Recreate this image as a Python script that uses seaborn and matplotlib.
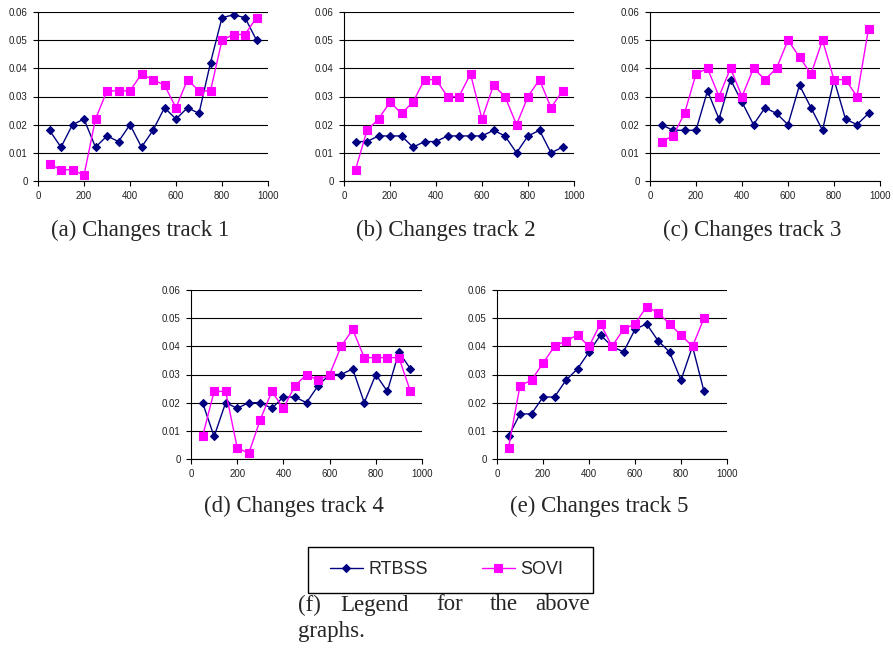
import numpy as np
import pandas as pd
import matplotlib
matplotlib.use('Agg')
import matplotlib.pyplot as plt
import matplotlib.patches as mpatches
import seaborn as sns

# ------------------------------------------------------------
# data
# ------------------------------------------------------------
x_19 = [50, 100, 150, 200, 250, 300, 350, 400, 450, 500,
        550, 600, 650, 700, 750, 800, 850, 900, 950]
x_18 = x_19[:-1]

rtbss_1 = [0.018, 0.012, 0.020, 0.022, 0.012, 0.016, 0.014, 0.020, 0.012, 0.018,
           0.026, 0.022, 0.026, 0.024, 0.042, 0.058, 0.059, 0.058, 0.050]
sovi_1 = [0.006, 0.004, 0.004, 0.002, 0.022, 0.032, 0.032, 0.032, 0.038, 0.036,
          0.034, 0.026, 0.036, 0.032, 0.032, 0.050, 0.052, 0.052, 0.058]

rtbss_2 = [0.014, 0.014, 0.016, 0.016, 0.016, 0.012, 0.014, 0.014, 0.016, 0.016,
           0.016, 0.016, 0.018, 0.016, 0.010, 0.016, 0.018, 0.010, 0.012]
sovi_2 = [0.004, 0.018, 0.022, 0.028, 0.024, 0.028, 0.036, 0.036, 0.030, 0.030,
          0.038, 0.022, 0.034, 0.030, 0.020, 0.030, 0.036, 0.026, 0.032]

rtbss_3 = [0.020, 0.018, 0.018, 0.018, 0.032, 0.022, 0.036, 0.028, 0.020, 0.026,
           0.024, 0.020, 0.034, 0.026, 0.018, 0.036, 0.022, 0.020, 0.024]
sovi_3 = [0.014, 0.016, 0.024, 0.038, 0.040, 0.030, 0.040, 0.030, 0.040, 0.036,
          0.040, 0.050, 0.044, 0.038, 0.050, 0.036, 0.036, 0.030, 0.054]

rtbss_4 = [0.020, 0.008, 0.020, 0.018, 0.020, 0.020, 0.018, 0.022, 0.022, 0.020,
           0.026, 0.030, 0.030, 0.032, 0.020, 0.030, 0.024, 0.038, 0.032]
sovi_4 = [0.008, 0.024, 0.024, 0.004, 0.002, 0.014, 0.024, 0.018, 0.026, 0.030,
          0.028, 0.030, 0.040, 0.046, 0.036, 0.036, 0.036, 0.036, 0.024]

rtbss_5 = [0.008, 0.016, 0.016, 0.022, 0.022, 0.028, 0.032, 0.038, 0.044, 0.040,
           0.038, 0.046, 0.048, 0.042, 0.038, 0.028, 0.040, 0.024]
sovi_5 = [0.004, 0.026, 0.028, 0.034, 0.040, 0.042, 0.044, 0.040, 0.048, 0.040,
          0.046, 0.048, 0.054, 0.052, 0.048, 0.044, 0.040, 0.050]

captions = ['(a) Changes track 1', '(b) Changes track 2', '(c) Changes track 3',
            '(d) Changes track 4', '(e) Changes track 5']
series_names = ['RTBSS', 'SOVI']
xtick_vals = [0, 200, 400, 600, 800, 1000]
xtick_labels = ['0', '200', '400', '600', '800', '1000']
ytick_vals = [0, 0.01, 0.02, 0.03, 0.04, 0.05, 0.06]
ytick_labels = ['0', '0.01', '0.02', '0.03', '0.04', '0.05', '0.06']

panels = [
    (x_19, rtbss_1, sovi_1),
    (x_19, rtbss_2, sovi_2),
    (x_19, rtbss_3, sovi_3),
    (x_19, rtbss_4, sovi_4),
    (x_18, rtbss_5, sovi_5),
]

# ------------------------------------------------------------
# style
# ------------------------------------------------------------
sns.set_theme(style='white')
plt.rcParams['font.family'] = ['Liberation Sans', 'DejaVu Sans']
serif = ['Liberation Serif', 'DejaVu Serif']

W, H = 893, 648
fig = plt.figure(figsize=(W / 100, H / 100), dpi=100)

# axes boxes in pixels: left, right, top, bottom
boxes = [
    (38, 268, 12, 181),
    (344, 574, 12, 181),
    (650, 880, 12, 181),
    (191, 422, 290, 459),
    (497, 727, 290, 459),
]
caption_pos = [(51, 230), (356, 230), (663, 230), (204, 506), (510, 506)]

colors = {'RTBSS': '#000080', 'SOVI': '#FF00FF'}
markers = {'RTBSS': 'D', 'SOVI': 's'}
msizes = {'RTBSS': 3.6, 'SOVI': 5.2}

handles = None
for i, (xs, rt, sv) in enumerate(panels):
    l, r, t, b = boxes[i]
    ax = fig.add_axes([l / W, 1 - b / H, (r - l) / W, (b - t) / H])
    for name, vals in zip(series_names, [rt, sv]):
        df = pd.DataFrame({'x': xs, 'value': vals})
        sns.lineplot(data=df, x='x', y='value', ax=ax, errorbar=None,
                     color=colors[name], marker=markers[name],
                     markersize=msizes[name], markeredgecolor=colors[name],
                     markeredgewidth=0.8, linewidth=1.0, label=name)
    if handles is None:
        handles, labels = ax.get_legend_handles_labels()
    if ax.get_legend() is not None:
        ax.get_legend().remove()

    ax.set_xlim(0, 1000)
    ax.set_ylim(0, 0.06)
    ax.set_xticks(xtick_vals)
    ax.set_xticklabels(xtick_labels)
    ax.set_yticks(ytick_vals)
    ax.set_yticklabels(ytick_labels)
    ax.set_xlabel('')
    ax.set_ylabel('')
    ax.set_axisbelow(True)
    ax.yaxis.grid(True, color='black', linewidth=0.8)
    ax.xaxis.grid(False)
    for side in ['top', 'right']:
        ax.spines[side].set_visible(False)
    for side in ['left', 'bottom']:
        ax.spines[side].set_color('black')
        ax.spines[side].set_linewidth(0.8)
    ax.tick_params(axis='both', which='major', direction='out', length=3.5,
                   width=0.8, color='black', labelsize=7, labelcolor='#222222',
                   left=True, bottom=True, pad=4)

    cx, cy = caption_pos[i]
    fig.text(cx / W, 1 - cy / H, captions[i], ha='left', va='center',
             fontsize=16.5, family=serif)

# legend: frame drawn as a rectangle, entries placed inside it
frame = mpatches.Rectangle((308 / W, 1 - 593 / H), 285 / W, 46 / H,
                           transform=fig.transFigure, fill=False,
                           edgecolor='black', linewidth=1.0)
fig.patches.append(frame)
leg = fig.legend(handles, labels, ncol=2, loc='center left',
                 bbox_to_anchor=(330 / W, 1 - 570 / H),
                 frameon=False, fontsize=13, borderpad=0, borderaxespad=0,
                 handlelength=1.8, handletextpad=0.33, columnspacing=3.0)

# justified caption for the legend
words = ['(f)', 'Legend', 'for', 'the', 'above']
word_x = [298, 340, 436, 490, 535]
for w, wx in zip(words, word_x):
    fig.text(wx / W, 1 - 605 / H, w, ha='left', va='center', fontsize=16.5, family=serif)
fig.text(298 / W, 1 - 632 / H, 'graphs.', ha='left', va='center', fontsize=16.5, family=serif)

fig.savefig('out.png', dpi=100)
